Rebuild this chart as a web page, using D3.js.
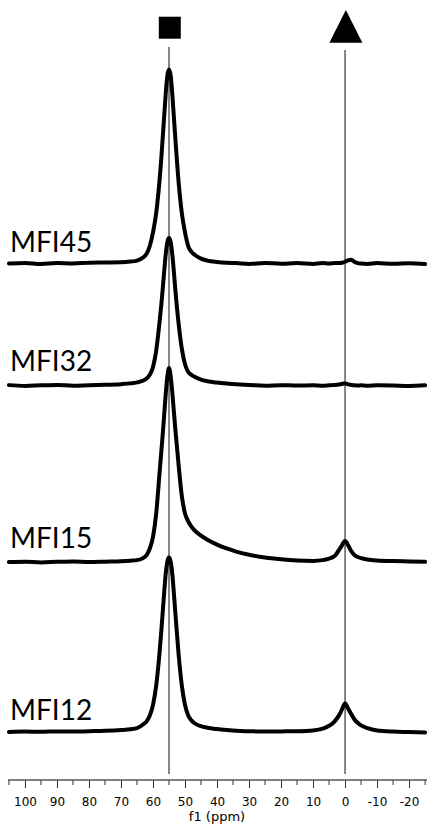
<html>

<head>
    <title> f1 spectra </title>
    <script src="https://cdn.jsdelivr.net/npm/d3@7"></script>
    <style type="text/css">
        body {
            margin: 0;
            background: white;
        }
        
        .tick text {
            font-family: "DejaVu Sans", Verdana, sans-serif;
        }
    </style>
</head>

<body>
    <script>
        var w = 428;
        var h = 825;

        // chemical shift grid (ppm), shared by all four traces
        var ppm = [105, 100, 95, 90, 85, 80, 75, 70, 67, 65, 63, 62, 61, 60, 59, 58, 57.5, 57, 56.5, 56, 55.5, 55, 54.5, 54, 53.5, 53,
            52, 51, 50, 49, 48, 47, 45, 43, 40, 37, 34, 30, 25, 20, 15, 10, 7, 5, 4, 3, 2, 1, 0.5, 0, -0.5, -1, -2, -3, -4, -5, -7, -10, -15, -20, -25
        ];

        var mfi45 = [0.0, 0.3, -0.3, 0.2, 0.0, 0.4, 0.5, 0.6, 1.0, 1.5, 3.2, 5, 9, 16, 26, 42, 52, 64, 76, 88, 97, 100, 97, 88, 76, 64,
            42, 26, 16, 9, 6, 4.5, 2.5, 1.5, 0.8, 0.4, 0.2, -0.2, 0.3, -0.1, 0.2, -0.2, 0.2, 0.0, 0.1, 0.3, 0.2, 0.4, 0.6, 0.9, 1.3, 1.7, 1.9, 0.8, 0.2, 0.0, -0.2, 0.2, -0.1, 0.1, -0.3
        ];
        var mfi32 = [0.2, -0.2, 0.1, 0.3, -0.1, 0.2, 0.4, 0.7, 1.1, 1.6, 2.6, 3.6, 5.5, 9.5, 18, 32, 40, 49, 59, 68, 74, 76, 74, 68, 59, 49,
            32, 19, 11, 7, 5.5, 4.5, 3, 2.2, 1.5, 1.0, 0.6, 0.3, -0.1, 0.2, 0.0, 0.1, -0.1, 0.1, 0.2, 0.3, 0.5, 0.8, 1.0, 1.1, 0.9, 0.6, 0.3, 0.1, 0.0, 0.1, -0.1, 0.1, 0.0, -0.2, 0.1
        ];
        var mfi15 = [0.0, 0.2, -0.2, 0.1, 0.3, 0.0, 0.2, 0.4, 0.7, 1.0, 2.2, 3.6, 7, 13, 25, 45, 55, 65, 76, 87, 96, 100, 96, 88, 78, 68,
            50, 34, 25, 21, 18.3, 16.3, 13.6, 11.5, 9.0, 7.0, 5.4, 3.8, 2.3, 1.4, 0.8, 0.6, 1.0, 1.8, 2.4, 3.5, 6, 8.5, 10, 10.8, 10, 8.5, 5.5, 3.5, 2.6, 2.0, 1.3, 0.8, 0.5, 0.3, 0.1
        ];
        var mfi12 = [0.0, 0.2, 0.1, 0.3, 0.2, 0.4, 0.6, 1.0, 1.4, 2.0, 4.0, 5.5, 8.5, 14, 24, 40, 50, 61, 72, 82, 88, 90, 88, 82, 72, 61,
            40, 24, 14, 8.5, 6, 4.5, 3, 2.2, 1.5, 1.0, 0.6, 0.4, 0.2, 0.3, 0.4, 0.8, 1.7, 3.2, 4.3, 6.0, 8.3, 11.5, 13.5, 14.8, 13.6, 12, 9.0, 6.3, 4.6, 3.4, 2.0, 0.8, 0.2, 0.0, -0.2
        ];

        var samples = ["MFI45", "MFI32", "MFI15", "MFI12"];
        var stackOffset = [241.5, 178.6, 87.6, 0];
        var series = [mfi45, mfi32, mfi15, mfi12];

        var tickValues = [100, 90, 80, 70, 60, 50, 40, 30, 20, 10, 0, -10, -20];
        var markerPpm = [55, 0];
        var markerShape = ["square", "triangle"];

        var svg = d3.select("body")
            .append("svg")
            .attr("width", w)
            .attr("height", h);

        var x = d3.scaleLinear()
            .domain([105.3, -25.6])
            .range([8, 427]);

        var y = d3.scaleLinear()
            .domain([0, 100])
            .range([732, 538]);

        // reference lines through the two peaks
        svg.selectAll("line.ref")
            .data(markerPpm)
            .enter()
            .append("line")
            .attr("class", "ref")
            .attr("x1", function(d) { return x(d); })
            .attr("x2", function(d) { return x(d); })
            .attr("y1", function(d, i) { return i == 0 ? 47 : 50; })
            .attr("y2", 774)
            .attr("stroke", "#444")
            .attr("stroke-width", 1.3);

        // markers on top
        svg.selectAll("path.marker")
            .data(markerPpm)
            .enter()
            .append("path")
            .attr("class", "marker")
            .attr("d", function(d, i) {
                var cx = x(d) + 0.8;
                if (markerShape[i] == "square") {
                    return "M" + (cx - 11) + ",16.7h22v22h-22z";
                }
                return "M" + cx + ",10L" + (cx + 16.5) + ",42.7L" + (cx - 16.5) + ",42.7z";
            })
            .attr("fill", "black");

        var line = d3.line()
            .curve(d3.curveMonotoneX)
            .x(function(d) { return x(d[0]); })
            .y(function(d) { return d[1]; });

        svg.selectAll("path.trace")
            .data(series)
            .enter()
            .append("path")
            .attr("class", "trace")
            .attr("d", function(vals, i) {
                var pts = ppm.map(function(p, k) {
                    return [p, y(stackOffset[i] + vals[k])];
                });
                // curveMonotoneX wants increasing x, so flip
                return line(pts.reverse());
            })
            .attr("fill", "none")
            .attr("stroke", "black")
            .attr("stroke-width", 4)
            .attr("stroke-linejoin", "round")
            .attr("stroke-linecap", "round");

        svg.selectAll("text.sample")
            .data(samples)
            .enter()
            .append("text")
            .attr("class", "sample")
            .attr("x", 10)
            .attr("y", function(d, i) {
                return y(stackOffset[i]) - [11, 15, 14, 12][i];
            })
            .attr("font-family", "Lato, sans-serif")
            .attr("font-size", "28px")
            .attr("fill", "black")
            .text(function(d) { return d; });

        // axis: major ticks every 10, minor every 5
        var axis = svg.append("g")
            .attr("transform", "translate(0,780)");

        axis.append("line")
            .attr("x1", 8)
            .attr("x2", 427)
            .attr("stroke", "black")
            .attr("stroke-width", 1);

        var minor = d3.range(105, -26, -5).filter(function(d) { return d % 10 != 0; });
        axis.selectAll("line.minor")
            .data(minor)
            .enter()
            .append("line")
            .attr("class", "minor")
            .attr("x1", function(d) { return x(d); })
            .attr("x2", function(d) { return x(d); })
            .attr("y1", 0)
            .attr("y2", 5)
            .attr("stroke", "#333");

        axis.call(d3.axisBottom(x)
                .tickValues(tickValues)
                .tickSize(8)
                .tickPadding(9.5)
                .tickFormat(function(d) { return d; }))
            .call(function(g) { g.select(".domain").remove(); })
            .selectAll("text")
            .attr("font-size", "12px")
            .attr("fill", "black");

        axis.selectAll(".tick line").attr("stroke", "#333");

        svg.append("text")
            .attr("x", 217)
            .attr("y", 821)
            .attr("text-anchor", "middle")
            .attr("font-family", "DejaVu Sans, Verdana, sans-serif")
            .attr("font-size", "13px")
            .text("f1 (ppm)");
    </script>

</body>

</html>
